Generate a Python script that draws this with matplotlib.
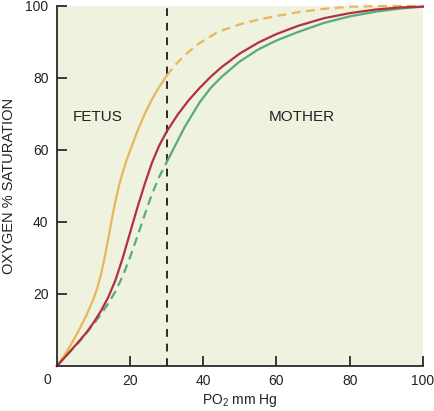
import matplotlib
matplotlib.use('Agg')
import matplotlib.pyplot as plt
import numpy as np

plt.rcParams['font.family'] = ['Liberation Sans', 'DejaVu Sans']
plt.rcParams['mathtext.default'] = 'regular'

# fetal curve (yellow)
fetus_x = [0, 2, 4, 6, 8, 10, 11, 12, 13, 14, 15, 16, 17, 18, 19, 20, 22, 24, 26, 28, 30,
           32, 35, 39, 44, 50, 55, 60, 66, 73, 80, 90, 100]
fetus_y = [0, 2.9, 6.2, 9.9, 13.9, 18.6, 21.5, 25.2, 29.8, 35.1, 40.6, 45.8, 50.2, 53.8, 57.0, 59.8,
           65.2, 70.0, 74.1, 77.6, 80.6,
           83.2, 86.4, 89.7, 92.8, 94.9, 96.2, 97.2, 98.3, 99.2, 99.8, 100, 100]

# red curve
red_x = [0, 2, 4, 6, 8, 10, 12, 14, 16, 18, 20, 22, 24, 26, 28, 30,
         33, 36, 39, 42, 45, 50, 55, 60, 66, 73, 80, 87, 94, 100]
red_y = [0, 2.2, 4.5, 6.8, 9.2, 12, 15.2, 19, 23.8, 30, 37, 44, 50.5, 56.5, 61.3, 65.1,
         69.8, 73.8, 77.2, 80.3, 83, 86.8, 89.8, 92.2, 94.5, 96.6, 98, 99, 99.6, 99.8]

# mother curve (green)
mother_x = [0, 2, 4, 6, 8, 10, 12, 14, 16, 18, 20, 22, 24, 26, 28, 30,
            32, 35, 39, 42, 45, 50, 55, 60, 66, 73, 80, 87, 94, 100]
mother_y = [0, 2.2, 4.4, 6.6, 9, 11.6, 14.3, 17.3, 20.7, 25, 30.2, 36, 42, 47.8, 52.6, 56.6,
            60.6, 66.5, 73.2, 77.2, 80.3, 84.6, 87.9, 90.4, 92.8, 95.3, 97.1, 98.4, 99.3, 99.8]

x_ticks = [20, 40, 60, 80, 100]
y_ticks = [20, 40, 60, 80, 100]
split_x = 30

bg = '#eef2de'
c_fetus = '#e6b75c'
c_red = '#b3303f'
c_mother = '#5aab7c'
dark = '#2a2a2a'

fig = plt.figure(figsize=(4.34, 4.11), dpi=100)
ax = fig.add_axes([0.131, 0.1095, 0.8433, 0.876])
ax.set_facecolor(bg)

fx, fy = np.array(fetus_x), np.array(fetus_y)
rx, ry = np.array(red_x), np.array(red_y)
mx, my = np.array(mother_x), np.array(mother_y)

lw = 1.6
# fetus solid left of the line, dashed right of it
ax.plot(fx[fx <= split_x], fy[fx <= split_x], color=c_fetus, lw=lw, clip_on=False)
ax.plot(fx[fx >= split_x], fy[fx >= split_x], color=c_fetus, lw=lw, dashes=(4, 2.5), clip_on=False)
# mother dashed left, solid right
ax.plot(mx[mx <= split_x], my[mx <= split_x], color=c_mother, lw=lw, dashes=(4, 2.5), clip_on=False)
ax.plot(mx[mx >= split_x], my[mx >= split_x], color=c_mother, lw=lw, clip_on=False)
ax.plot(rx, ry, color=c_red, lw=lw, clip_on=False)

ax.axvline(split_x, color=dark, lw=1.4, dashes=(4, 3.5), zorder=1)

ax.set_xlim(0, 100)
ax.set_ylim(0, 100)
for s in ['top', 'right']:
    ax.spines[s].set_visible(False)
for s in ['left', 'bottom']:
    ax.spines[s].set_color(dark)
    ax.spines[s].set_linewidth(1.3)

ax.set_xticks(x_ticks)
ax.set_yticks(y_ticks)
ax.tick_params(direction='in', length=7, width=1.3, color=dark, labelsize=10, labelcolor='#222222', pad=6)

# shared origin label
ax.annotate('0', xy=(0, 0), xytext=(-6.5, -10), textcoords='offset points',
            ha='center', va='center', fontsize=10, color='#222222', annotation_clip=False)

ax.set_xlabel('PO$_2$ mm Hg', fontsize=10, color='#222222', labelpad=3)
ax.set_ylabel('OXYGEN % SATURATION', fontsize=10.5, color='#222222')
ax.yaxis.set_label_coords(-0.112, 0.5)

ax.text(11.2, 69.2, 'FETUS', fontsize=11, color='#222222', ha='center', va='center')
ax.text(67, 69.2, 'MOTHER', fontsize=11, color='#222222', ha='center', va='center')

fig.savefig('out.png', dpi=100, facecolor='white')
